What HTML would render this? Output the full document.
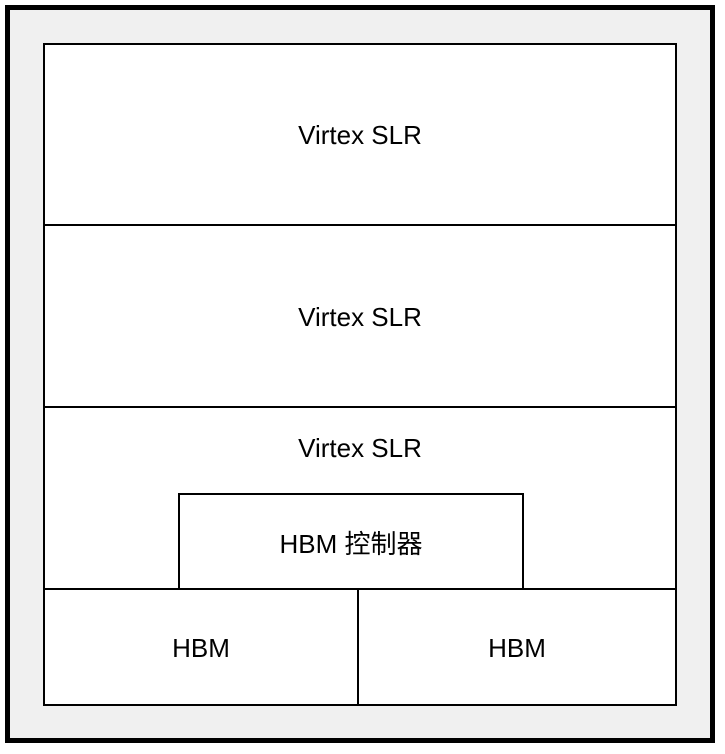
<!DOCTYPE html>
<html><head><style>body{margin:0;background:#fff}svg{display:block}text{font-family:"Liberation Sans","Noto Sans CJK SC",sans-serif;font-size:26px;fill:#000}</style></head>
<body>
<svg width="725" height="754" viewBox="0 0 725 754">
<rect x="7.5" y="7.5" width="705" height="733" fill="#f0f0f0" stroke="#000" stroke-width="5"/>
<rect x="44" y="44" width="632" height="661" fill="#fff" stroke="#000" stroke-width="2"/>
<line x1="44" y1="225" x2="676" y2="225" stroke="#000" stroke-width="2"/>
<line x1="44" y1="407" x2="676" y2="407" stroke="#000" stroke-width="2"/>
<line x1="44" y1="589" x2="676" y2="589" stroke="#000" stroke-width="2"/>
<line x1="358" y1="589" x2="358" y2="705" stroke="#000" stroke-width="2"/>
<rect x="179" y="494" width="344" height="95" fill="#fff" stroke="#000" stroke-width="2"/>
<text x="360" y="144" text-anchor="middle">Virtex SLR</text>
<text x="360" y="326" text-anchor="middle">Virtex SLR</text>
<text x="360" y="457" text-anchor="middle">Virtex SLR</text>
<text x="351" y="553" text-anchor="middle">HBM 控制器</text>
<text x="201" y="657" text-anchor="middle">HBM</text>
<text x="517" y="657" text-anchor="middle">HBM</text>
</svg>
</body></html>
